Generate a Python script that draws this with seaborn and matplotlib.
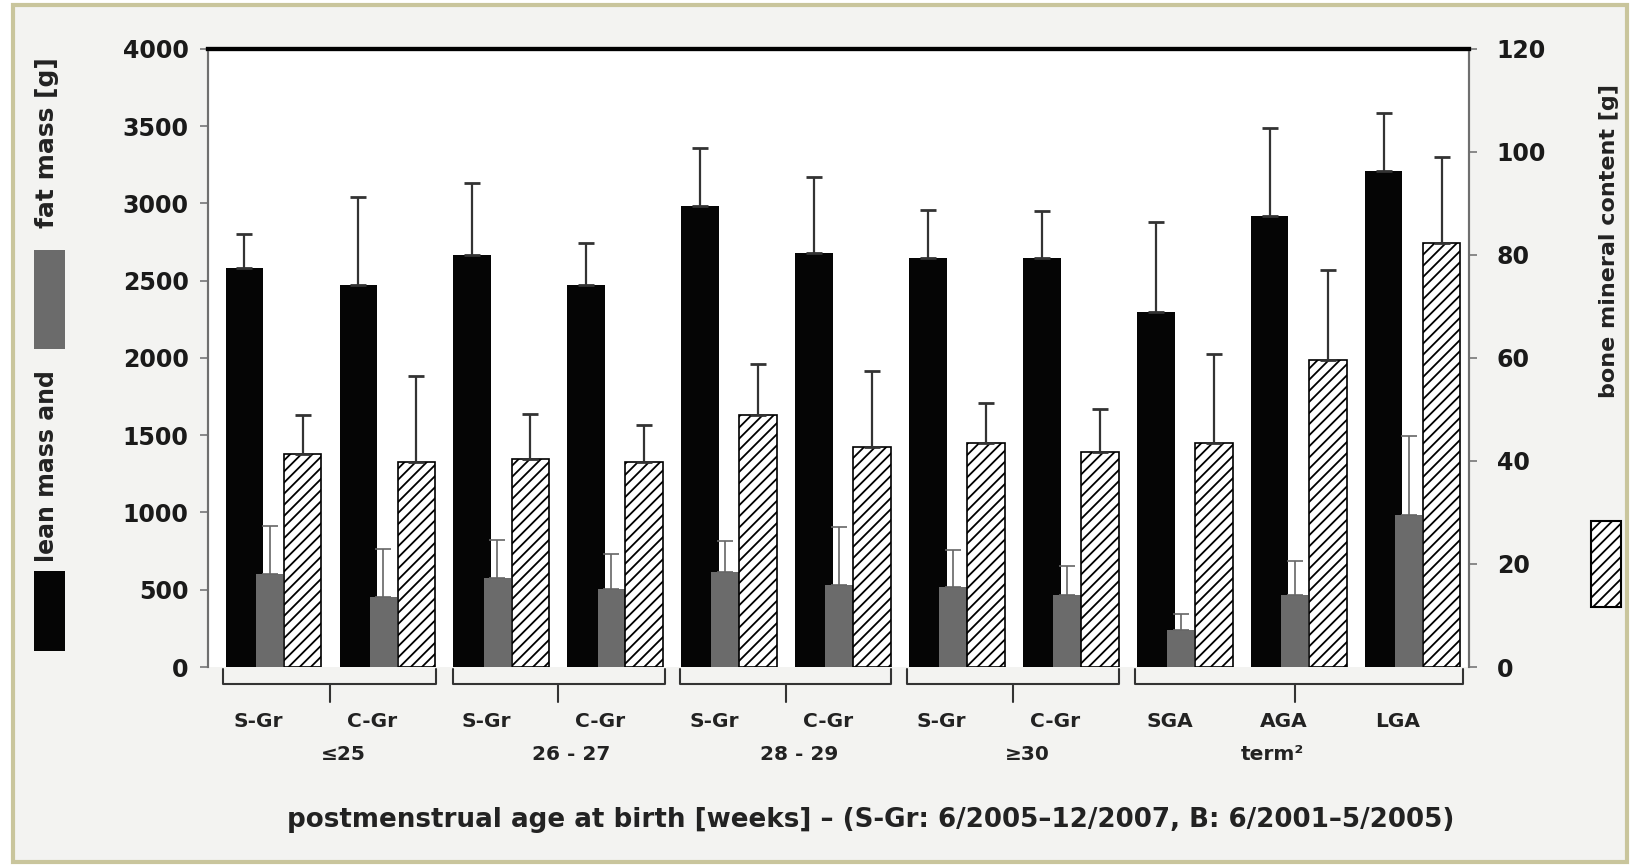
import numpy as np
import pandas as pd
import matplotlib
matplotlib.use("Agg")
import matplotlib.pyplot as plt
from matplotlib.patches import Rectangle
import seaborn as sns

# groups along the x axis
groups = ["S-Gr", "C-Gr", "S-Gr", "C-Gr", "S-Gr", "C-Gr", "S-Gr", "C-Gr", "SGA", "AGA", "LGA"]
age_labels = ["\u226425", "26 - 27", "28 - 29", "\u226530", "term\u00b2"]

# lean mass [g] (left axis), mean and SD
lean = [2582, 2474, 2669, 2474, 2983, 2682, 2645, 2645, 2295, 2918, 3213]
lean_sd = [221, 565, 465, 271, 378, 491, 310, 306, 584, 573, 372]
# fat mass [g] (left axis)
fat = [604, 452, 578, 507, 615, 528, 519, 465, 238, 465, 984]
fat_sd = [309, 313, 244, 223, 200, 380, 238, 190, 108, 220, 514]
# bone mineral content [g] (right axis)
bmc = [41.4, 39.8, 40.4, 39.8, 48.9, 42.8, 43.4, 41.8, 43.4, 59.7, 82.3]
bmc_sd = [7.5, 16.7, 8.8, 7.2, 10.0, 14.6, 7.8, 8.2, 17.4, 17.3, 16.7]

sns.set_style("white")
plt.rcParams["font.family"] = ["DejaVu Sans"]
plt.rcParams["hatch.linewidth"] = 1.3

pos = np.arange(len(groups))
df = pd.DataFrame({"pos": pos, "lean": lean, "fat": fat, "bmc": bmc})
df["x_lean"] = df["pos"] - 0.22
df["x_bmc"] = df["pos"] + 0.29

fig = plt.figure(figsize=(16.34, 8.65), dpi=100)
fig.patch.set_facecolor("white")
fig.patches.append(Rectangle((0.008, 0.004), 0.988, 0.99, transform=fig.transFigure,
                             facecolor="#f3f3f1", edgecolor="#c9c59c", lw=3, zorder=-5))

ax = fig.add_axes([0.1273, 0.2289, 0.7717, 0.7145])
ax2 = ax.twinx()

sns.barplot(data=df, x="x_lean", y="lean", native_scale=True, width=0.33,
            color="#050505", saturation=1, errorbar=None, linewidth=0, ax=ax)
sns.barplot(data=df, x="pos", y="fat", native_scale=True, width=0.24,
            color="#6b6b6b", saturation=1, errorbar=None, linewidth=0, ax=ax)
sns.barplot(data=df, x="x_bmc", y="bmc", native_scale=True, width=0.33,
            color="white", saturation=1, errorbar=None, ax=ax2,
            edgecolor="black", linewidth=1.2, hatch="///")

ax.errorbar(df["x_lean"], lean, yerr=[np.zeros(len(lean)), lean_sd], fmt="none",
            ecolor="#333333", elinewidth=1.6, capsize=6, capthick=2)
ax.errorbar(df["pos"], fat, yerr=[np.zeros(len(fat)), fat_sd], fmt="none",
            ecolor="#666666", elinewidth=1.2, capsize=6, capthick=1.2)
ax2.errorbar(df["x_bmc"], bmc, yerr=[np.zeros(len(bmc)), bmc_sd], fmt="none",
             ecolor="#333333", elinewidth=1.6, capsize=6, capthick=2)

for a in (ax, ax2):
    a.set_xlim(-0.54, 10.53)
    a.set_xticks([])
    a.set_xlabel("")
    a.set_ylabel("")
    a.set_facecolor("white")
    a.spines["bottom"].set_visible(False)
    a.spines["top"].set_linewidth(3)
    a.spines["top"].set_color("black")
    a.spines["left"].set_color("#6f6f6f")
    a.spines["right"].set_color("#6f6f6f")
    a.spines["left"].set_linewidth(1.5)
    a.spines["right"].set_linewidth(1.5)

ax.set_ylim(0, 4000)
ax.set_yticks(range(0, 4001, 500))
ax2.set_ylim(0, 120)
ax2.set_yticks(range(0, 121, 20))
ax.tick_params(axis="y", left=True, length=6, width=1.2, color="#777777",
               labelsize=17, pad=8)
ax2.tick_params(axis="y", right=True, length=6, width=1.2, color="#777777",
                labelsize=17, pad=14)
for lab in ax.get_yticklabels() + ax2.get_yticklabels():
    lab.set_fontweight("bold")
    lab.set_color("#1a1a1a")

# brackets under the groups
trans = ax.get_xaxis_transform()
brackets = [(-0.41, 1.46, 0.53), (1.61, 3.47, 2.53), (3.6, 5.46, 4.53), (5.6, 7.46, 6.53),
            (7.6, 10.48, 9.0)]
for xl, xr, xc in brackets:
    ax.plot([xl, xl, xr, xr], [-0.004, -0.028, -0.028, -0.004], transform=trans,
            color="#333333", lw=1.5, clip_on=False)
    ax.plot([xc, xc], [-0.028, -0.056], transform=trans, color="#333333", lw=1.5,
            clip_on=False)

for i, g in enumerate(groups):
    ax.text(i - 0.1, -0.088, g, transform=trans, ha="center", va="center", fontsize=14.5,
            fontweight="bold", color="#222222")
age_pos = [0.65, 2.65, 4.65, 6.65, 8.8]
for xp, lab in zip(age_pos, age_labels):
    ax.text(xp, -0.142, lab, transform=trans, ha="center", va="center", fontsize=14.5,
            fontweight="bold", color="#222222")

fig.text(0.533, 0.052, "postmenstrual age at birth [weeks] \u2013 (S-Gr: 6/2005\u201312/2007, B: 6/2001\u20135/2005)",
         ha="center", va="center", fontsize=18.8, fontweight="bold", color="#222222")

# y axis titles with inline legend boxes
fig.text(0.0288, 0.461, "lean mass and", rotation=90, ha="center", va="center",
         fontsize=17, fontweight="bold", color="#222222")
fig.text(0.0288, 0.835, "fat mass [g]", rotation=90, ha="center", va="center",
         fontsize=18, fontweight="bold", color="#222222")
fig.patches.append(Rectangle((0.0208, 0.5965), 0.019, 0.1145, transform=fig.transFigure,
                             facecolor="#6b6b6b", edgecolor="none"))
fig.patches.append(Rectangle((0.0208, 0.2474), 0.019, 0.0925, transform=fig.transFigure,
                             facecolor="#050505", edgecolor="none"))
fig.text(0.985, 0.721, "bone mineral content [g]", rotation=90, ha="center", va="center",
         fontsize=16, fontweight="bold", color="#222222")
fig.patches.append(Rectangle((0.9737, 0.2983), 0.0184, 0.0994, transform=fig.transFigure,
                             facecolor="white", edgecolor="black", lw=1.5, hatch="///"))

fig.savefig("out.png", dpi=100)
